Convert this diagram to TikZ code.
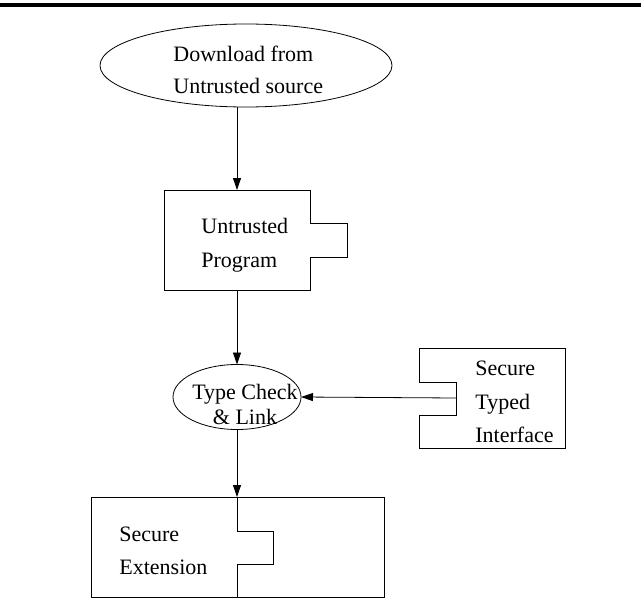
\documentclass[tikz,border=0pt]{standalone}
\usepackage{fontspec}
\setmainfont{Liberation Serif}
\usetikzlibrary{arrows.meta,shapes.geometric}
\begin{document}
\begin{tikzpicture}[x=1pt,y=-1pt, line width=0.8pt,
  arr/.style={-{Triangle[length=12pt,width=8pt]}},
  frame/.style={inner sep=0pt, outer sep=0pt},
  lblA/.style={font=\fontsize{22}{32}\selectfont, align=left, inner sep=0pt},
  lblB/.style={font=\fontsize{22}{25}\selectfont, align=center, inner sep=0pt},
  lblC/.style={font=\fontsize{22}{33.5}\selectfont, align=left, inner sep=0pt}]
\useasboundingbox (0,0) rectangle (641,608);
% top rule
\draw[line width=4pt] (0,5) -- (641,5);

% Download ellipse
\node[draw, ellipse, frame, minimum width=292pt, minimum height=83pt] (dl) at (246,65.5) {};
\node[lblA, anchor=west] (dltext) at (173,69.5) {Download from\\Untrusted source};

% Untrusted Program box
\node[frame, minimum width=146pt, minimum height=100pt] (prog) at (237,240) {};
\draw (prog.north east) -- (prog.north west) -- (prog.south west) -- (prog.south east)
  -- ++(0,-33) -- ++(37,0) -- ++(0,-34) -- ++(-37,0) -- cycle;
\node[lblA, font=\fontsize{22}{34}\selectfont, anchor=west] (progtext) at (201,245) {Untrusted\\Program};

% Type Check ellipse
\node[draw, ellipse, frame, minimum width=128pt, minimum height=65pt] (tc) at (237,397) {};
\node[lblB] (tctext) at (245,404) {Type Check\\\& Link};

% Secure Typed Interface box
\node[frame, minimum width=146pt, minimum height=100pt] (sti) at (492,398) {};
\draw (sti.west) ++(0,-16) -- (sti.north west) -- (sti.north east) -- (sti.south east)
  -- (sti.south west) -- ++(0,-33) -- ++(37,0) -- ++(0,-33) -- ++(-37,0) -- cycle;
\coordinate (stin) at ([xshift=37pt]sti.west);
\node[lblC, anchor=west] (stitext) at (475,402) {Secure\\Typed\\Interface};

% Secure Extension box
\node[draw, frame, minimum width=293pt, minimum height=100pt] (ext) at (237.5,547) {};
\coordinate (exttop) at (237,497);
\draw (exttop) -- (237,531) -- (273,531) -- (273,564) -- (237,564) -- (237,597);
\node[lblC, font=\fontsize{22}{33}\selectfont, anchor=west] (exttext) at (119,551) {Secure\\Extension};

% connectors
\draw[arr] (dl.south -| prog.north) -- (prog.north);
\draw[arr] (prog.south) -- (tc.north);
\draw[arr] (stin) -- (tc.east);
\draw[arr] (tc.south) -- (exttop);
\end{tikzpicture}
\end{document}
